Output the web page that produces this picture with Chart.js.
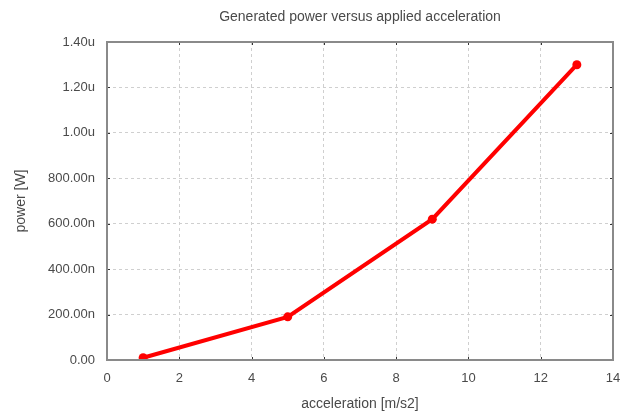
<!DOCTYPE html>
<html>
<head>
<meta charset="utf-8">
<script src="https://cdn.jsdelivr.net/npm/chart.js@4"></script>
<style>
  html, body { margin: 0; padding: 0; background: #fff; }
  #wrap { width: 634px; height: 415px; }
</style>
</head>
<body>
<div id="wrap"><canvas id="chart"></canvas></div>
<script>
// acceleration [m/s2] and generated power [W]
const accel = [1, 5, 9, 13];
const power = [0.01e-6, 0.19e-6, 0.62e-6, 1.30e-6];

const xTicks = [0, 2, 4, 6, 8, 10, 12, 14];
const yTickLabels = ['0.00', '200.00n', '400.00n', '600.00n', '800.00n', '1.00u', '1.20u', '1.40u'];
const TITLE = 'Generated power versus applied acceleration';

const FONT = 'Liberation Sans, Arial, sans-serif';
const AXIS_GREY = '#8a8a8a';
const TEXT = '#4a4a4a';

// box around the plot area, small inward ticks, and the title centred over the plot
const frame = {
  id: 'frame',
  afterDraw(chart) {
    const { ctx, chartArea: a, scales } = chart;
    ctx.save();
    ctx.strokeStyle = '#333';
    ctx.lineWidth = 1;
    ctx.beginPath();
    xTicks.forEach(v => {
      const px = Math.round(scales.x.getPixelForValue(v)) + 0.5;
      ctx.moveTo(px, a.top); ctx.lineTo(px, a.top + 3);
      ctx.moveTo(px, a.bottom); ctx.lineTo(px, a.bottom - 3);
    });
    yTickLabels.forEach((_, i) => {
      const py = Math.round(scales.y.getPixelForValue(i * 0.2e-6)) + 0.5;
      ctx.moveTo(a.left, py); ctx.lineTo(a.left + 3, py);
      ctx.moveTo(a.right, py); ctx.lineTo(a.right - 3, py);
    });
    ctx.stroke();
    ctx.strokeStyle = AXIS_GREY;
    ctx.lineWidth = 2;
    ctx.strokeRect(a.left, a.top, a.right - a.left, a.bottom - a.top);

    ctx.fillStyle = TEXT;
    ctx.font = '14px ' + FONT;
    ctx.textAlign = 'center';
    ctx.textBaseline = 'middle';
    ctx.fillText(TITLE, (a.left + a.right) / 2, 17);
    ctx.restore();
  }
};

new Chart(document.getElementById('chart'), {
  type: 'scatter',
  data: {
    datasets: [{
      data: accel.map((a, i) => ({ x: a, y: power[i] })),
      showLine: true,
      borderColor: '#ff0000',
      backgroundColor: '#ff0000',
      borderWidth: 4,
      pointRadius: 4.5,
      pointBorderWidth: 0,
      pointHoverRadius: 4.5,
    }],
  },
  options: {
    responsive: true,
    maintainAspectRatio: false,
    animation: false,
    layout: { padding: { left: 0, right: 21, top: 42, bottom: 0 } },
    plugins: {
      legend: { display: false },
      tooltip: { enabled: false },
      title: { display: false },
    },
    scales: {
      x: {
        type: 'linear',
        min: 0,
        max: 14,
        afterBuildTicks: s => { s.ticks = xTicks.map(v => ({ value: v })); },
        ticks: {
          color: TEXT,
          font: { family: FONT, size: 13 },
          padding: 11,
        },
        afterFit: s => { s.height = 55; },
        grid: { color: '#cfcfcf', drawTicks: false },
        border: { display: false, dash: [3, 3] },
        title: {
          display: true,
          text: 'acceleration [m/s2]',
          color: TEXT,
          font: { family: FONT, size: 14 },
          padding: { top: 0, bottom: 2 },
        },
      },
      y: {
        min: 0,
        max: 1.4e-6,
        afterBuildTicks: s => { s.ticks = yTickLabels.map((_, i) => ({ value: i * 0.2e-6 })); },
        ticks: {
          color: TEXT,
          font: { family: FONT, size: 13 },
          padding: 12,
          callback: (v, i) => yTickLabels[i],
        },
        afterFit: s => { s.width = 107; },
        grid: { color: '#cfcfcf', drawTicks: false },
        border: { display: false, dash: [3, 3] },
        title: {
          display: true,
          text: 'power [W]',
          color: TEXT,
          font: { family: FONT, size: 14 },
          padding: { top: 13, bottom: 0 },
        },
      },
    },
  },
  plugins: [frame],
});
</script>
</body>
</html>
